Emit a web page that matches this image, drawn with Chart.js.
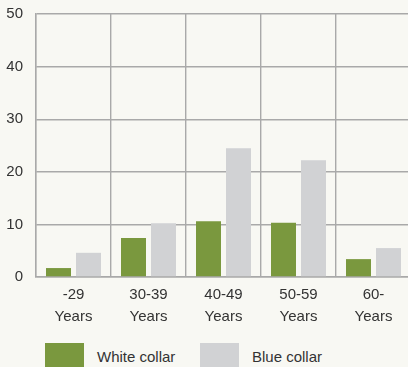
<!DOCTYPE html>
<html><head><meta charset="utf-8">
<script src="https://cdn.jsdelivr.net/npm/chart.js@4/dist/chart.umd.min.js"></script>
<style>
html,body{margin:0;padding:0;background:#f8f8f3;overflow:hidden;width:408px;height:367px;}
#wrap{position:absolute;left:0;top:0;width:420px;height:335px;}
#legend{position:absolute;left:0;top:343px;width:408px;height:40px;font-family:"Liberation Sans",Arial,sans-serif;font-size:15px;color:#333;}
.item{position:absolute;top:0;height:30px;}
.box{position:absolute;left:0;top:0;width:39px;height:28px;}
.lbl{position:absolute;left:52px;top:5px;white-space:nowrap;}
</style></head>
<body>
<div id="wrap"><canvas id="c" width="420" height="335"></canvas></div>
<div id="legend"></div>
<script>
const categories = [["-29","Years"],["30-39","Years"],["40-49","Years"],["50-59","Years"],["60-","Years"]];
const whiteCollar = [1.7, 7.4, 10.6, 10.3, 3.4];
const blueCollar = [4.6, 10.2, 24.5, 22.2, 5.5];
const seriesNames = ["White collar","Blue collar"];
const seriesColors = ["#7a983e","#d1d2d4"];
const yTicks = [0,10,20,30,40,50];

const font = {family:"'Liberation Sans', Arial, sans-serif", size:15, lineHeight:1.33};
const xFont = {family:"'Liberation Sans', Arial, sans-serif", size:15, lineHeight:1.45};
const gridColor = "#a9a9a9";

new Chart(document.getElementById('c'), {
  type:'bar',
  data:{
    labels:categories,
    datasets:[
      {label:seriesNames[0], data:whiteCollar, backgroundColor:seriesColors[0], categoryPercentage:0.8, barPercentage:0.8333},
      {label:seriesNames[1], data:blueCollar, backgroundColor:seriesColors[1], categoryPercentage:0.8, barPercentage:0.8333}
    ]
  },
  options:{
    responsive:false, animation:false,
    layout:{autoPadding:false, padding:{top:14,right:9,left:0,bottom:0}},
    plugins:{legend:{display:false}, tooltip:{enabled:false}},
    scales:{
      x:{
        grid:{color:gridColor, lineWidth:1.4, drawTicks:false, offset:true},
        border:{color:gridColor, width:1.4},
        ticks:{font:xFont, color:"#333", padding:7, maxRotation:0, autoSkip:false},
        afterFit:(s)=>{s.height=58; s.paddingLeft=0; s.paddingRight=0;}
      },
      y:{
        min:0,max:50,
        afterBuildTicks:(s)=>{s.ticks=yTicks.map(v=>({value:v}));},
        grid:{color:gridColor, lineWidth:1.4, drawTicks:false},
        border:{color:gridColor, width:1.4},
        ticks:{font:font, color:"#333", padding:13},
        afterFit:(s)=>{s.width=36; s.paddingTop=0; s.paddingBottom=0;}
      }
    }
  }
});

const lg = document.getElementById('legend');
const lx = [45, 200];
seriesNames.forEach((n,i)=>{
  const d=document.createElement('div'); d.className='item'; d.style.left=lx[i]+'px';
  d.innerHTML='<div class="box" style="background:'+seriesColors[i]+'"></div><div class="lbl">'+n+'</div>';
  lg.appendChild(d);
});
</script>
</body></html>
